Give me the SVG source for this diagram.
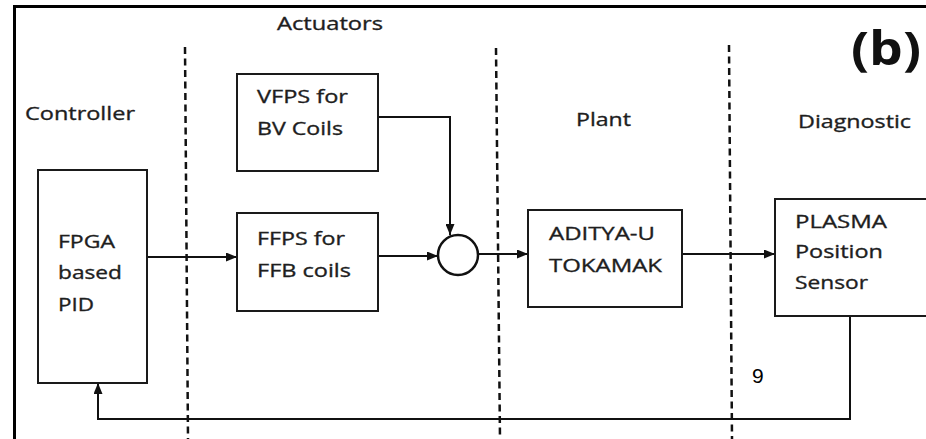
<svg xmlns="http://www.w3.org/2000/svg" width="926" height="439" viewBox="0 0 926 439">
<style>
.box{fill:#fff;stroke:#1a1a1a;stroke-width:2}
.lbl{font-family:"Open Sans","DejaVu Sans",sans-serif;font-size:19px;fill:#1e1e1e;stroke:#1e1e1e;stroke-width:0.35}
.dash{stroke:#111;stroke-width:2.5;stroke-dasharray:7 4.5;fill:none}
.conn{stroke:#111;stroke-width:2;fill:none}
</style>
<defs>
<marker id="ah" markerWidth="11" markerHeight="9" refX="11" refY="4.5" orient="auto" markerUnits="userSpaceOnUse">
<path d="M0,0 L11,4.5 L0,9 Z" fill="#111"/>
</marker>
</defs>
<rect width="926" height="439" fill="#fff"/>
<g id="frame">
<path d="M14.5,439 V6.5 H926" fill="none" stroke="#000" stroke-width="3"/>
</g>
<g id="dividers">
<line class="dash" x1="185" y1="47" x2="188" y2="439"/>
<line class="dash" x1="496" y1="48" x2="500" y2="439"/>
<line class="dash" x1="729" y1="45" x2="732" y2="439"/>
</g>
<g id="headers">
<text class="lbl" x="277" y="30" textLength="106" lengthAdjust="spacingAndGlyphs">Actuators</text>
<text class="lbl" x="25" y="120" textLength="110" lengthAdjust="spacingAndGlyphs">Controller</text>
<text class="lbl" x="576" y="126" textLength="55" lengthAdjust="spacingAndGlyphs">Plant</text>
<text class="lbl" x="798" y="128" textLength="113" lengthAdjust="spacingAndGlyphs">Diagnostic</text>
<text x="851" y="65" font-family="'Open Sans','DejaVu Sans',sans-serif" font-weight="bold" font-size="47" fill="#111" textLength="70" lengthAdjust="spacingAndGlyphs">(b)</text>
<text x="752" y="383" font-family="'Liberation Sans',Arial,sans-serif" font-size="21" fill="#000">9</text>
</g>
<g id="connectors">
<polyline class="conn" points="378,117 450,117 450,235" marker-end="url(#ah)"/>
<line class="conn" x1="147" y1="257" x2="237" y2="257" marker-end="url(#ah)"/>
<line class="conn" x1="378" y1="256" x2="438" y2="256" marker-end="url(#ah)"/>
<line class="conn" x1="478" y1="254" x2="528" y2="254" marker-end="url(#ah)"/>
<line class="conn" x1="682" y1="254" x2="775" y2="254" marker-end="url(#ah)"/>
<polyline class="conn" points="850,316 850,419 98,419 98,383" marker-end="url(#ah)"/>
</g>
<g id="fpga">
<rect class="box" x="38" y="170" width="109" height="213"/>
<text class="lbl" x="58" y="248" textLength="57" lengthAdjust="spacingAndGlyphs">FPGA</text>
<text class="lbl" x="58" y="279" textLength="64" lengthAdjust="spacingAndGlyphs">based</text>
<text class="lbl" x="58" y="311" textLength="36" lengthAdjust="spacingAndGlyphs">PID</text>
</g>
<g id="vfps">
<rect class="box" x="237" y="74" width="141" height="97"/>
<text class="lbl" x="257" y="103" textLength="91" lengthAdjust="spacingAndGlyphs">VFPS for</text>
<text class="lbl" x="257" y="135" textLength="86" lengthAdjust="spacingAndGlyphs">BV Coils</text>
</g>
<g id="ffps">
<rect class="box" x="237" y="213" width="141" height="98"/>
<text class="lbl" x="257" y="245" textLength="88" lengthAdjust="spacingAndGlyphs">FFPS for</text>
<text class="lbl" x="257" y="277" textLength="94" lengthAdjust="spacingAndGlyphs">FFB coils</text>
</g>
<g id="sum">
<circle cx="458" cy="255" r="20" fill="#fff" stroke="#111" stroke-width="2.5"/>
</g>
<g id="aditya">
<rect class="box" x="528" y="210" width="154" height="97"/>
<text class="lbl" x="549" y="240" textLength="106" lengthAdjust="spacingAndGlyphs">ADITYA-U</text>
<text class="lbl" x="549" y="272" textLength="113" lengthAdjust="spacingAndGlyphs">TOKAMAK</text>
</g>
<g id="plasma">
<rect class="box" x="775" y="199" width="160" height="117"/>
<text class="lbl" x="795" y="228" textLength="92" lengthAdjust="spacingAndGlyphs">PLASMA</text>
<text class="lbl" x="795" y="258" textLength="88" lengthAdjust="spacingAndGlyphs">Position</text>
<text class="lbl" x="795" y="289" textLength="73" lengthAdjust="spacingAndGlyphs">Sensor</text>
</g>
</svg>
